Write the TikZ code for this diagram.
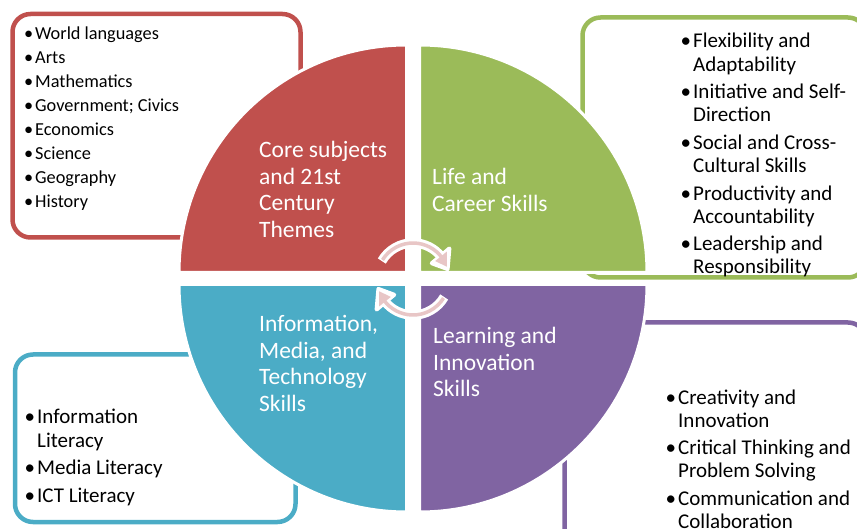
\documentclass[tikz,border=0pt]{standalone}
\usepackage{fontspec}
\setmainfont{Carlito}
\usetikzlibrary{calc}

\definecolor{cRed}{HTML}{C0504D}
\definecolor{cGreen}{HTML}{9BBB59}
\definecolor{cBlue}{HTML}{4BACC6}
\definecolor{cPurple}{HTML}{8064A2}
\definecolor{cPink}{HTML}{E8C6C6}

% hanging bullet placed left of the item text
\newcommand\bul{\llap{•\hspace{2pt}}}

\tikzset{
  frame/.style={draw=#1, line width=4.5pt, rounded corners=18pt},
  quad/.style={fill=#1, draw=white, line width=3pt},
  qlabel/.style={anchor=base west, inner sep=0pt, text=white,
                 font=\fontsize{23.5}{26.5}\selectfont},
  listtext/.style={anchor=base west, inner sep=0pt, text=black},
  ringout/.style={white, line width=9.5pt},
  ringin/.style={cPink, line width=3.5pt},
}

\begin{document}
\begin{tikzpicture}[x=1pt,y=1pt]
\useasboundingbox (0,0) rectangle (857,-529);
\clip (0,0) rectangle (857,-529);

% rounded frames behind the wheel
\draw[frame=cRed]    (12.5,-14)   rectangle (300.5,-237.5);
\draw[frame=cGreen]  (582.5,-17.5) rectangle (866,-277.5);
\draw[frame=cPurple] (564.5,-322.5) rectangle (866,-545);
\draw[frame=cBlue]   (15,-354.5)  rectangle (295.5,-522);

% the four quarters of the wheel
\path[quad=cRed]    (406.5,-272.5) -- ++(-227.5,0) arc[start angle=180, end angle=90, radius=227.5] -- cycle;
\path[quad=cGreen]  (419.5,-272.5) -- ++(0,227.5)  arc[start angle=90, end angle=0, radius=227.5] -- cycle;
\path[quad=cBlue]   (406.5,-284.5) -- ++(0,-227.5) arc[start angle=270, end angle=180, radius=227.5] -- cycle;
\path[quad=cPurple] (419.5,-284.5) -- ++(227.5,0)  arc[start angle=0, end angle=-90, radius=227.5] -- cycle;

% circular arrows in the middle
\coordinate (ac) at (413,-279);
% upper arrow
\draw[ringout] ($(ac)+(150:36)$) arc[start angle=150, end angle=38, radius=36];
\filldraw[white, line width=4pt, line join=round]
  ($(ac)+(40:24.5)$) -- ($(ac)+(40:47.5)$) -- ($(ac)+(16:36)$) -- cycle;
\draw[ringin] ($(ac)+(148:36)$) arc[start angle=148, end angle=36, radius=36];
\fill[cPink] ($(ac)+(39:28.5)$) -- ($(ac)+(39:43.5)$) -- ($(ac)+(20:36)$) -- cycle;
% lower arrow
\draw[ringout] ($(ac)+(-30:36)$) arc[start angle=-30, end angle=-142, radius=36];
\filldraw[white, line width=4pt, line join=round]
  ($(ac)+(-140:24.5)$) -- ($(ac)+(-140:47.5)$) -- ($(ac)+(-164:36)$) -- cycle;
\draw[ringin] ($(ac)+(-32:36)$) arc[start angle=-32, end angle=-144, radius=36];
\fill[cPink] ($(ac)+(-141:28.5)$) -- ($(ac)+(-141:43.5)$) -- ($(ac)+(-160:36)$) -- cycle;

% quarter titles
\node[qlabel] (core) at (259,-158)
  {\begin{tabular}[t]{@{}l@{}}Core subjects\\and 21st\\Century\\Themes\end{tabular}};
\node[qlabel] (life) at (432,-185)
  {\begin{tabular}[t]{@{}l@{}}Life and\\Career Skills\end{tabular}};
\node[qlabel] (info) at (259,-332)
  {\begin{tabular}[t]{@{}l@{}}Information,\\Media, and\\Technology\\Skills\end{tabular}};
\node[qlabel] (learn) at (433,-344)
  {\begin{tabular}[t]{@{}l@{}}Learning and\\Innovation\\Skills\end{tabular}};

% bullet lists
\node[listtext, font=\fontsize{18.3}{24}\selectfont] (corelist) at (35,-39.5)
  {\begin{tabular}[t]{@{}l@{}}
   \bul World languages\\
   \bul Arts\\
   \bul Mathematics\\
   \bul Government; Civics\\
   \bul Economics\\
   \bul Science\\
   \bul Geography\\
   \bul History
   \end{tabular}};

\node[listtext, font=\fontsize{21}{23.2}\selectfont] (lifelist) at (693,-48)
  {\begin{tabular}[t]{@{}l@{}}
   \bul Flexibility and\\ Adaptability\\[4.3pt]
   \bul Initiative and Self-\\ Direction\\[4.3pt]
   \bul Social and Cross-\\ Cultural Skills\\[4.3pt]
   \bul Productivity and\\ Accountability\\[4.3pt]
   \bul Leadership and\\ Responsibility
   \end{tabular}};

\node[listtext, font=\fontsize{21}{23.2}\selectfont] (learnlist) at (678,-404)
  {\begin{tabular}[t]{@{}l@{}}
   \bul Creativity and\\ Innovation\\[4.3pt]
   \bul Critical Thinking and\\ Problem Solving\\[4.3pt]
   \bul Communication and\\ Collaboration
   \end{tabular}};

\node[listtext, font=\fontsize{21}{24}\selectfont] (infolist) at (37,-423)
  {\begin{tabular}[t]{@{}l@{}}
   \bul Information\\ Literacy\\[3.5pt]
   \bul Media Literacy\\[3.5pt]
   \bul ICT Literacy
   \end{tabular}};
\end{tikzpicture}
\end{document}
